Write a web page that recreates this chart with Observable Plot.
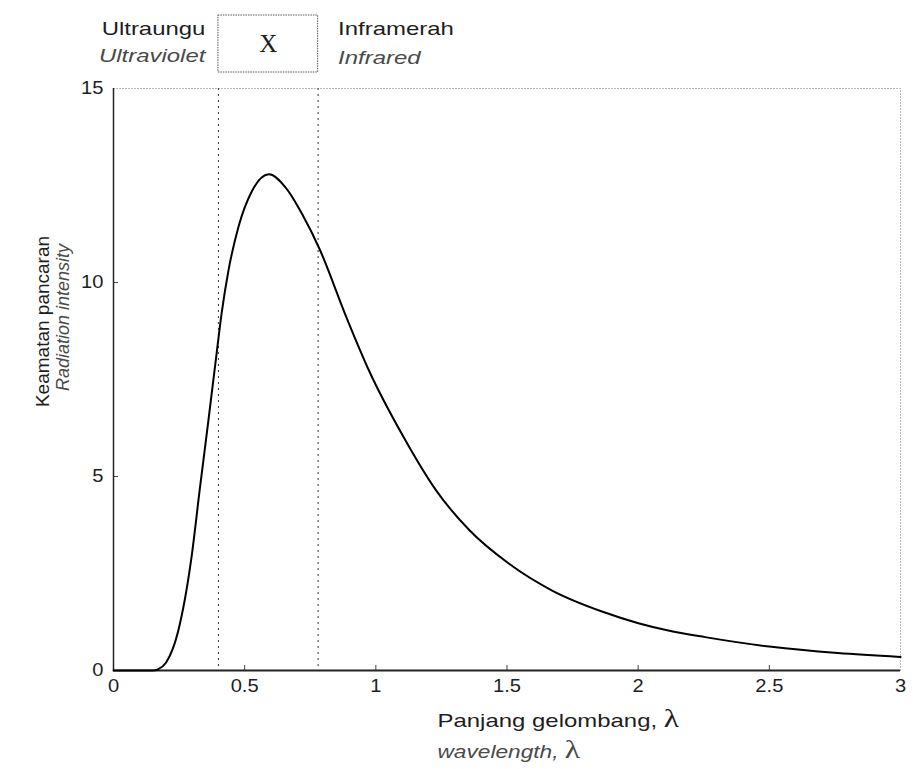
<!DOCTYPE html>
<html>
<head>
<meta charset="utf-8">
<script src="https://cdn.jsdelivr.net/npm/d3@7"></script>
<script src="https://cdn.jsdelivr.net/npm/@observablehq/plot@0.6"></script>
<style>
  html, body { margin: 0; padding: 0; background: #fff; }
</style>
</head>
<body>
<div id="chart"></div>
<script>
// Values
const wavelength = [0, 0.08, 0.15, 0.169, 0.2, 0.246, 0.297, 0.329, 0.361, 0.393, 0.412, 0.438, 0.477, 0.528, 0.592, 0.657, 0.721, 0.785, 0.888, 0.976, 1.103, 1.229, 1.356, 1.508, 1.672, 1.862, 2.001, 2.115, 2.255, 2.508, 2.761, 3.0];
const intensity  = [0, 0, 0, 0.03, 0.2, 1.0, 2.9, 4.68, 6.4, 8.17, 9.2, 10.3, 11.45, 12.36, 12.79, 12.44, 11.74, 10.87, 9.1, 7.7, 6.05, 4.65, 3.62, 2.75, 2.06, 1.52, 1.22, 1.03, 0.86, 0.61, 0.45, 0.35];
const visibleBounds = [0.4, 0.78];
const xTicks = [0, 0.5, 1, 1.5, 2, 2.5, 3];
const xTickLabels = ["0", "0.5", "1", "1.5", "2", "2.5", "3"];
const yTicks = [0, 5, 10, 15];
const yTickLabels = ["0", "5", "10", "15"];
const yLabelLines = ["Keamatan pancaran", "Radiation intensity"];
const xLabelLines = ["Panjang gelombang, λ", "wavelength, λ"];
const uvLines = ["Ultraungu", "Ultraviolet"];
const irLines = ["Inframerah", "Infrared"];
const visibleLabel = "X";

const curve = wavelength.map((x, i) => ({x, y: intensity[i]}));
const W = 919, H = 769;
const mt = 88, mb = 99, ml = 113, mr = 19;
const fw = W - ml - mr, fh = H - mt - mb;
const sans = "Liberation Sans, Arial, sans-serif";
const serif = "Liberation Serif, Times New Roman, serif";
const visMid = (visibleBounds[0] + visibleBounds[1]) / 2;
const yTop = yTicks[yTicks.length - 1];
const ink = "#1e1e1e", inkItalic = "#4a4a4a";

const chart = Plot.plot({
  width: W, height: H,
  marginTop: mt, marginBottom: mb, marginLeft: ml, marginRight: mr,
  style: {fontFamily: sans, fontSize: "18px", background: "#fff", color: ink},
  x: {domain: [xTicks[0], xTicks[xTicks.length - 1]]},
  y: {domain: [yTicks[0], yTop]},
  marks: [
    Plot.frame({stroke: "#777", strokeDasharray: "1,2"}),
    Plot.ruleX(visibleBounds, {stroke: "#333", strokeDasharray: "2,4", strokeWidth: 1}),
    Plot.tickX(xTicks.slice(1, -1), {insetTop: fh - 5, stroke: "#444"}),
    Plot.tickY(yTicks.slice(1, -1), {insetRight: fw - 5, stroke: "#444"}),
    Plot.ruleX([xTicks[0]], {stroke: "#222", strokeWidth: 1.5}),
    Plot.ruleY([yTicks[0]], {stroke: "#222", strokeWidth: 1.8}),
    Plot.line(curve, {x: "x", y: "y", curve: "monotone-x", stroke: "#000", strokeWidth: 2}),
    Plot.axisX({ticks: xTicks, tickSize: 0, tickPadding: 9, tickFormat: (d, i) => xTickLabels[i], label: null, fontSize: 18, className: "wide-t"}),
    Plot.axisY({ticks: yTicks, tickSize: 0, tickPadding: 10, tickFormat: (d, i) => yTickLabels[i], label: null, fontSize: 18, className: "wide-t"}),
    // visible band box with X
    Plot.rect([0], {x1: () => visibleBounds[0], x2: () => visibleBounds[1], y1: () => yTop, y2: () => yTop, insetTop: -73, insetBottom: 16, fill: "none", stroke: "#555", strokeDasharray: "1.5,1"}),
    Plot.text([visibleLabel], {x: () => visMid, frameAnchor: "top", lineAnchor: "middle", dy: -45, text: d => d, fontFamily: serif, fontSize: 25, fill: ink}),
    // UV / IR labels
    Plot.text([uvLines[0]], {x: () => visibleBounds[0], frameAnchor: "top", lineAnchor: "middle", dx: -13, dy: -60, textAnchor: "end", text: d => d, fontSize: 19, fill: ink, className: "wide"}),
    Plot.text([uvLines[1]], {x: () => visibleBounds[0], frameAnchor: "top", lineAnchor: "middle", dx: -13, dy: -33, textAnchor: "end", text: d => d, fontSize: 19, fontStyle: "italic", fill: inkItalic, className: "wide"}),
    Plot.text([irLines[0]], {x: () => visibleBounds[1], frameAnchor: "top", lineAnchor: "middle", dx: 20, dy: -60, textAnchor: "start", text: d => d, fontSize: 19, fill: ink, className: "wide"}),
    Plot.text([irLines[1]], {x: () => visibleBounds[1], frameAnchor: "top", lineAnchor: "middle", dx: 20, dy: -31, textAnchor: "start", text: d => d, fontSize: 19, fontStyle: "italic", fill: inkItalic, className: "wide"}),
    // y axis title
    Plot.text([yLabelLines[0]], {frameAnchor: "left", textAnchor: "middle", lineAnchor: "middle", dx: -71, dy: -58, rotate: -90, text: d => d, fontSize: 19, fill: ink}),
    Plot.text([yLabelLines[1]], {frameAnchor: "left", textAnchor: "middle", lineAnchor: "middle", dx: -50, dy: -62, rotate: -90, text: d => d, fontSize: 18, fontStyle: "italic", fill: inkItalic}),
    // x axis title
    Plot.text([xLabelLines[0]], {frameAnchor: "bottom-left", lineAnchor: "middle", dx: 324, dy: 50, textAnchor: "start", text: d => d, fontSize: 19, fill: ink, className: "wide"}),
    Plot.text([xLabelLines[1]], {frameAnchor: "bottom-left", lineAnchor: "middle", dx: 324, dy: 82, textAnchor: "start", text: d => d, fontSize: 18, fontStyle: "italic", fill: inkItalic, className: "wide"})
  ]
});
document.getElementById("chart").appendChild(chart);

// lambda in a serif face, then widen horizontal texts like the reference
chart.querySelectorAll("text").forEach(t => {
  const s = t.textContent;
  if (s.endsWith("λ") && t.children.length === 0) {
    t.textContent = s.slice(0, -1);
    const sp = document.createElementNS("http://www.w3.org/2000/svg", "tspan");
    sp.setAttribute("font-family", serif);
    sp.setAttribute("font-style", "normal");
    sp.setAttribute("font-size", "25");
    sp.textContent = "λ";
    t.appendChild(sp);
  }
});
function widen(sel, k) {
  chart.querySelectorAll(sel).forEach(t => {
    const len = t.getComputedTextLength();
    t.setAttribute("textLength", (len * k).toFixed(1));
    t.setAttribute("lengthAdjust", "spacingAndGlyphs");
  });
}
widen(".wide text", 1.26);
widen(".wide-t text", 1.12);
</script>
</body>
</html>
